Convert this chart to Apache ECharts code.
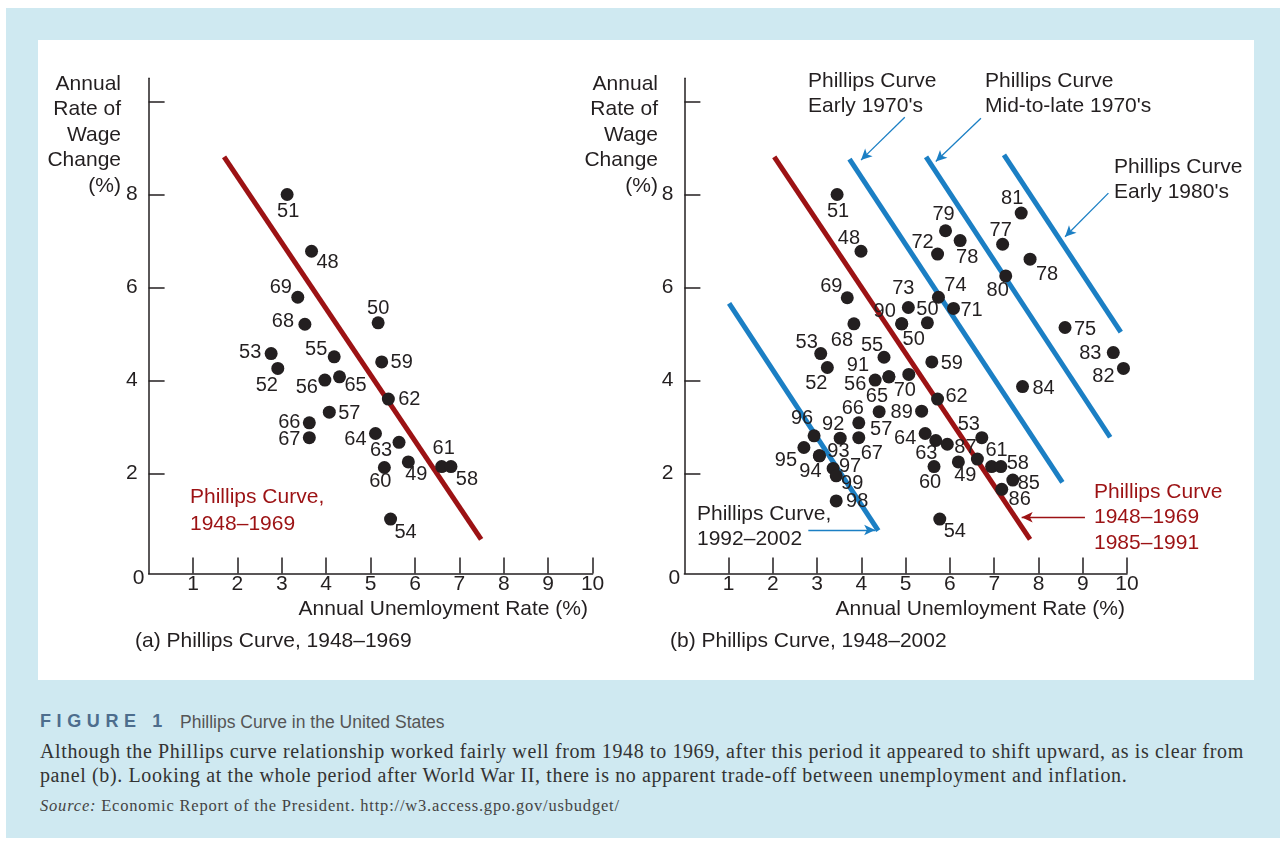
<!DOCTYPE html>
<html>
<head>
<meta charset="utf-8">
<script src="https://cdn.jsdelivr.net/npm/echarts@6/dist/echarts.min.js"></script>
<style>
body{margin:0;width:1284px;height:842px;background:#fff;position:relative;overflow:hidden;}
#frame{position:absolute;left:6px;top:8px;width:1274px;height:830px;background:#cfe9f1;}
#panel{position:absolute;left:38px;top:40px;width:1216px;height:640px;background:#fff;}
#chart{width:1216px;height:640px;}
#figtitle{position:absolute;left:40px;top:711px;white-space:nowrap;}
#figtitle .num{font-family:"Liberation Sans",Arial,sans-serif;font-weight:bold;font-size:18px;letter-spacing:5.6px;color:#4d6d8d;}
#figtitle .ttl{position:absolute;left:140px;top:1px;font-family:"Liberation Sans Narrow","Liberation Sans",sans-serif;font-size:17.5px;color:#555;}
#body{position:absolute;left:40px;top:739px;font-family:"Liberation Serif","DejaVu Serif",serif;font-size:20px;letter-spacing:0.62px;line-height:24px;color:#333;white-space:nowrap;}
#source{position:absolute;left:40px;top:796px;font-family:"Liberation Serif","DejaVu Serif",serif;font-size:16.5px;letter-spacing:0.8px;color:#444;white-space:nowrap;}
</style>
</head>
<body>
<div id="frame"></div>
<div id="panel"><div id="chart"></div></div>
<div id="figtitle"><span class="num">FIGURE 1</span><span class="ttl">Phillips Curve in the United States</span></div>
<div id="body">Although the Phillips curve relationship worked fairly well from 1948 to 1969, after this period it appeared to shift upward, as is clear from<br>panel (b). Looking at the whole period after World War II, there is no apparent trade-off between unemployment and inflation.</div>
<div id="source"><i>Source:</i> Economic Report of the President. http://w3.access.gpo.gov/usbudget/</div>
<script>
// panel (a) 1948-1969
var yearsA = ['51','48','69','68','53','52','55','56','65','50','59','62','57','66','67','64','63','49','60','61','58','54'];
var unempA = [3.12,3.67,3.36,3.52,2.76,2.91,4.18,3.97,4.30,5.17,5.25,5.40,4.07,3.62,3.62,5.11,5.64,5.85,5.31,6.60,6.81,5.45];
var wageA  = [8.00,6.78,5.79,5.21,4.58,4.26,4.51,4.01,4.08,5.24,4.40,3.60,3.32,3.09,2.77,2.86,2.67,2.25,2.13,2.15,2.15,1.02];

// panel (b) 1948-2002
var yearsB = ['69','68','53','52','55','56','65','91','70','90','50','73','50','74','71','59','62','89','57','66',
              '67','92','96','95','94','93','97','99','98','64','','63','60','49','54','53','87','61','58','85',
              '86','81','79','78','72','77','78','80','75','83','82','84','51','48'];
var unempB = [3.68,3.83,3.08,3.23,4.51,4.31,4.62,4.62,5.07,4.91,4.91,5.06,5.49,5.74,6.08,5.59,5.72,5.36,4.40,3.94,
              3.94,3.52,2.93,2.70,3.05,3.05,3.36,3.43,3.43,5.44,5.68,5.94,5.64,6.19,5.77,6.72,6.62,6.94,7.15,7.42,
              7.17,7.61,5.90,6.23,5.72,7.19,7.81,7.26,8.60,9.69,9.92,7.64,3.45,3.99];
var wageB  = [5.78,5.22,4.58,4.28,4.50,4.01,4.08,4.08,4.13,5.22,5.22,5.57,5.24,5.79,5.55,4.40,3.60,3.34,3.33,3.09,
              2.77,2.76,2.81,2.56,2.38,2.38,2.11,1.95,1.41,2.86,2.71,2.63,2.15,2.25,1.02,2.77,2.31,2.15,2.15,1.86,
              1.66,7.60,7.22,7.01,6.72,6.93,6.61,6.25,5.14,4.60,4.26,3.87,8.00,6.78];

// Phillips curves (end points: unemployment, wage change)
var curveA     = [[1.70, 8.81], [7.49, 0.585]];
var curve4869  = [[2.03, 8.81], [7.81, 0.585]];
var curve9202  = [[1.01, 5.66], [4.38, 0.77]];
var curveE70   = [[3.73, 8.76], [8.54, 1.81]];
var curveM70   = [[5.46, 8.81], [9.62, 2.78]];
var curveE80   = [[7.22, 8.85], [9.86, 5.04]];

var xTicks = [1,2,3,4,5,6,7,8,9,10];
var yTicks = [2,4,6,8,10];
var yLabels = [2,4,6,8];

// where each year label sits relative to its dot (px)
var offA = [[1,17],[16,11],[-17,-10],[-22,-3],[-21,-1],[-11,17],[-18,-7],[-18,7],[16,9],[0,-14],[20,1],[21,0],
            [20,1],[-20,0],[-20,2],[-20,6],[-18,8],[8,13],[-4,14],[2,-18],[16,13],[15,13]];
var offB = [[-16,-11],[-12,17],[-14,-11],[-11,16],[-12,-12],[-20,4],[-12,20],[-31,-11],[-4,16],[-17,-12],
            [12,16],[-5,-19],[0,-13],[17,-12],[18,2],[20,2],[19,-3],[-20,1],[2,18],[-6,-14],
            [13,16],[-7,-14],[-12,-17],[-18,13],[-9,16],[19,-4],[17,-2],[16,8],[21,1],[-20,5],
            [0,0],[-21,9],[-4,16],[7,14],[15,12],[-13,-13],[-12,-12],[5,-16],[17,-3],[16,3],
            [18,10],[-9,-15],[-2,-16],[7,17],[-15,-12],[-2,-14],[17,15],[-8,15],[20,2],[-23,1],
            [-20,8],[21,2],[1,17],[-12,-13]];

var INK = '#231f20', RED = '#9c1214', BLUE = '#1b7fc4';
var FONT = '"Liberation Sans", Arial, Helvetica, sans-serif';

var fnPoints = function(xs, ys, names, offs) {
	var arr = [];
	for (var i = 0; i < xs.length; i++) {
		arr.push({name: names[i], value: [xs[i], ys[i]], label: {offset: offs[i]}});
	}
	return arr;
};

var fnArrow = function(from, to) {
	return [{coord: from}, {coord: to}];
};

var fnCurve = function(idx, data, color, arrows) {
	var s = {
		type: 'line', xAxisIndex: idx, yAxisIndex: idx, data: data,
		symbol: 'none', silent: true, z: 2,
		lineStyle: {color: color, width: 5, cap: 'butt', opacity: 1}
	};
	if (arrows) {
		s.markLine = {
			silent: true, symbol: ['none', 'arrow'], symbolSize: [8, 11],
			label: {show: false}, animation: false,
			lineStyle: {color: color, width: 1.3, type: 'solid', opacity: 1},
			data: arrows
		};
	}
	return s;
};

var fnScatter = function(idx, data) {
	return {
		type: 'scatter', xAxisIndex: idx, yAxisIndex: idx, data: data, z: 5,
		symbol: 'circle', symbolSize: 13, itemStyle: {color: INK, opacity: 1},
		label: {show: true, position: 'inside', formatter: '{b}', color: INK, opacity: 1,
			fontSize: 20, fontFamily: FONT, textBorderWidth: 0}
	};
};

var axisX = function(idx) {
	return {
		type: 'value', gridIndex: idx, min: 0, max: 10, interval: 1,
		axisLine: {onZero: false, lineStyle: {color: INK, width: 1.5}},
		axisTick: {inside: true, length: 16, lineStyle: {color: INK, width: 1.5}, customValues: xTicks},
		axisLabel: {color: INK, fontSize: 21, fontFamily: FONT, margin: 0,
			customValues: [0].concat(xTicks),
			formatter: function(v) { return v === 0 ? '{z|0}' : String(v); },
			rich: {z: {fontSize: 21, fontFamily: FONT, color: INK, lineHeight: 10, padding: [0, 20, 0, 0]}}},
		splitLine: {show: false}
	};
};
var axisY = function(idx) {
	return {
		type: 'value', gridIndex: idx, min: -0.15, max: 10.5,
		axisLine: {onZero: false, lineStyle: {color: INK, width: 1.5}},
		axisTick: {inside: true, length: 16, lineStyle: {color: INK, width: 1.5}, customValues: yTicks},
		axisLabel: {color: INK, fontSize: 21, fontFamily: FONT, margin: 11, customValues: yLabels},
		splitLine: {show: false}
	};
};

var txt = function(x, y, text, color, align, lh) {
	return {type: 'text', x: x, y: y, silent: true,
		style: {text: text, fill: color || INK, font: '21px ' + FONT,
			align: align || 'left', verticalAlign: 'top', lineHeight: lh || 25.5}};
};

var chart = echarts.init(document.getElementById('chart'), null, {renderer: 'canvas'});
var option = {
	animation: false,
	grid: [
		{left: 110.6, top: 38.25, width: 444, height: 495.25, outerBoundsMode: 'none'},
		{left: 646.4, top: 38.25, width: 442.6, height: 495.25, outerBoundsMode: 'none'}
	],
	xAxis: [axisX(0), axisX(1)],
	yAxis: [axisY(0), axisY(1)],
	series: [
		fnCurve(0, curveA, RED),
		fnScatter(0, fnPoints(unempA, wageA, yearsA, offA)),
		fnCurve(1, curve4869, RED, [fnArrow([9.05, 1.06], [7.62, 1.06])]),
		fnCurve(1, curve9202, BLUE, [fnArrow([2.80, 0.785], [4.31, 0.785])]),
		fnCurve(1, curveE70, BLUE, [fnArrow([4.98, 9.66], [3.99, 8.74])]),
		fnCurve(1, curveM70, BLUE, [fnArrow([6.70, 9.64], [5.68, 8.71])]),
		fnCurve(1, curveE80, BLUE, [fnArrow([9.58, 8.03], [8.60, 7.09])]),
		fnScatter(1, fnPoints(unempB, wageB, yearsB, offB))
	],
	graphic: [
		txt(83, 31, 'Annual\nRate of\nWage\nChange\n(%)', INK, 'right'),
		txt(620, 31, 'Annual\nRate of\nWage\nChange\n(%)', INK, 'right'),
		txt(152, 444, 'Phillips Curve,\n1948–1969', RED, 'left', 26.7),
		txt(550, 556, 'Annual Unemloyment Rate (%)', INK, 'right'),
		txt(1087, 556, 'Annual Unemloyment Rate (%)', INK, 'right'),
		txt(97, 588, '(a) Phillips Curve, 1948–1969'),
		txt(632, 588, '(b) Phillips Curve, 1948–2002'),
		txt(770, 29, 'Phillips Curve\nEarly 1970\'s', INK, 'left', 24.5),
		txt(947, 29, 'Phillips Curve\nMid-to-late 1970\'s', INK, 'left', 24.5),
		txt(1076, 114, 'Phillips Curve\nEarly 1980\'s', INK, 'left', 25.5),
		txt(659, 461, 'Phillips Curve,\n1992–2002', INK, 'left', 25.5),
		txt(1056, 439, 'Phillips Curve\n1948–1969\n1985–1991', RED, 'left', 25.5)
	]
};
chart.setOption(option);
</script>
</body>
</html>
